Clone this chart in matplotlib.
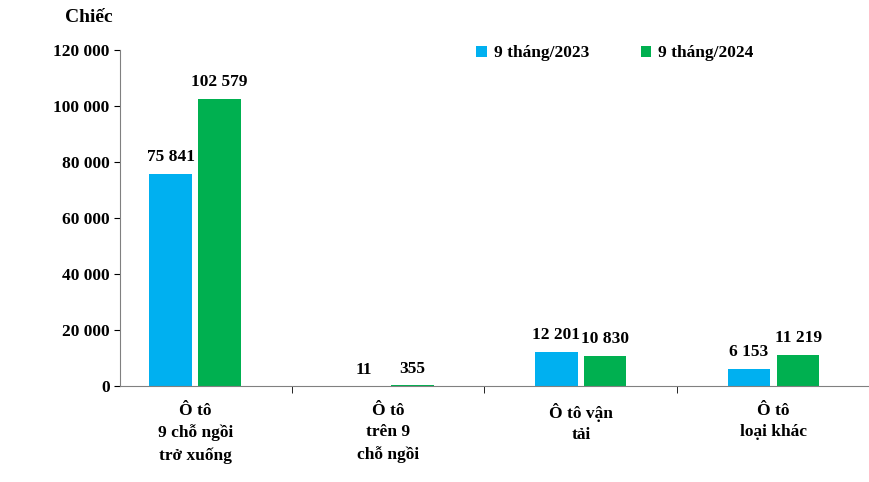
import numpy as np
import matplotlib
matplotlib.use('Agg')
import matplotlib.pyplot as plt

categories = ['Ô tô\n9 chỗ ngồi\ntrở xuống', 'Ô tô\ntrên 9\nchỗ ngồi', 'Ô tô vận\ntải', 'Ô tô\nloại khác']
vals_2023 = [75841, 11, 12201, 6153]
vals_2024 = [102579, 355, 10830, 11219]
labels_2023 = ['75 841', '11', '12 201', '6 153']
labels_2024 = ['102 579', '355', '10 830', '11 219']
yticks = [0, 20000, 40000, 60000, 80000, 100000, 120000]
ytick_labels = ['0', '20 000', '40 000', '60 000', '80 000', '100 000', '120 000']

plt.rcParams['font.family'] = 'Liberation Serif'
plt.rcParams['font.weight'] = 'bold'

fig = plt.figure(figsize=(8.7, 4.82), dpi=100)
ax = fig.add_axes([120/870, 1-386/482, 750/870, 336/482])

x = np.arange(len(categories))
w = 0.22
off = 0.127
ax.bar(x - off, vals_2023, w, color='#00B0F0', label='9 tháng/2023')
ax.bar(x + off, vals_2024, w, color='#00B050', label='9 tháng/2024')
for i in range(len(x)):
    ax.text(x[i] - off, vals_2023[i] + 3000, labels_2023[i], ha='center', va='bottom', fontsize=12.5, fontweight='bold')
    ax.text(x[i] + off, vals_2024[i] + 3000, labels_2024[i], ha='center', va='bottom', fontsize=12.5, fontweight='bold')

ax.set_xlim(-0.39, 3.5)
ax.set_ylim(0, 120000)
ax.set_yticks(yticks)
ax.set_yticklabels(ytick_labels, fontsize=12.5, fontweight='bold')
ax.set_xticks(x)
ax.set_xticklabels(categories, fontsize=12.5, fontweight='bold', linespacing=1.45)
ax.tick_params(axis='x', length=0, pad=12)
ax.set_xticks([0.5, 1.5, 2.5], minor=True)
ax.tick_params(axis='x', which='minor', length=5)
ax.tick_params(axis='y', length=4)
for s in ['top', 'right']:
    ax.spines[s].set_visible(False)
ax.spines['left'].set_color('#808080')
ax.spines['bottom'].set_color('#808080')

fig.text(65/870, 1-18/482, 'Chiếc', fontsize=14, fontweight='bold', va='center')
ax.legend(loc='upper center', bbox_to_anchor=(0.66, 1.06), ncol=2, frameon=False,
          handlelength=0.6, handleheight=0.6, columnspacing=3, handletextpad=0.4,
          prop={'weight': 'bold', 'size': 12.5})

fig.savefig('out.png', dpi=100)
